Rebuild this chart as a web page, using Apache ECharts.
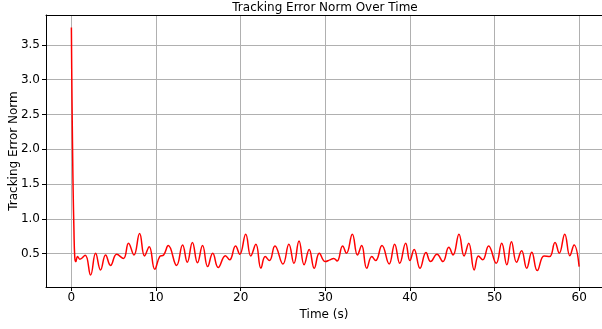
<!DOCTYPE html>
<html>
<head>
<meta charset="utf-8">
<script src="https://cdn.jsdelivr.net/npm/echarts@6/dist/echarts.min.js"></script>
<style>
  html, body { margin: 0; padding: 0; background: #fff; }
  #main { width: 602px; height: 329px; }
</style>
</head>
<body>
<div id="main"></div>
<script>
// time (s) and tracking error norm
const times = [
  0, 0.05, 0.1, 0.15, 0.2, 0.3, 0.4, 0.53, 0.73, 1.0, 1.63, 2.27, 2.86, 3.45, 4.04, 4.63,
  5.35, 6.15, 6.75, 7.39, 8.06, 8.65, 9.2, 9.85, 10.45, 10.9, 11.45, 12.43, 13.14, 13.7,
  14.3, 14.9, 15.5, 16.1, 16.7, 17.35, 18.2, 18.7, 19.4, 19.9, 20.6, 21.2, 21.8, 22.4,
  22.9, 23.4, 24.05, 25.0, 25.7, 26.3, 26.9, 27.5, 28.1, 28.7, 29.3, 30.0, 30.55, 31.0,
  31.4, 32.05, 32.5, 33.2, 33.8, 34.3, 34.9, 35.5, 35.95, 36.7, 37.55, 38.2, 38.8, 39.5,
  40.0, 40.5, 41.2, 41.9, 42.45, 43.2, 43.9, 44.6, 45.1, 45.8, 46.4, 46.95, 47.6, 48.1,
  48.6, 49.3, 50.2, 50.85, 51.45, 52.0, 52.6, 53.2, 53.8, 54.4, 55.05, 55.85, 56.5,
  57.15, 57.65, 58.3, 58.9, 59.4, 60.0
];
const errorNorm = [
  3.75, 3.0, 2.4, 1.9, 1.45, 0.85, 0.45, 0.385, 0.46, 0.42, 0.477, 0.194, 0.505, 0.266, 0.48, 0.33,
  0.49, 0.43, 0.65, 0.48, 0.79, 0.467, 0.60, 0.275, 0.46, 0.48, 0.615, 0.33, 0.625, 0.376,
  0.66, 0.37, 0.615, 0.313, 0.505, 0.30, 0.47, 0.41, 0.61, 0.49, 0.78, 0.467, 0.635, 0.29,
  0.457, 0.40, 0.61, 0.35, 0.635, 0.36, 0.68, 0.34, 0.56, 0.29, 0.505, 0.385, 0.41, 0.43,
  0.395, 0.61, 0.505, 0.78, 0.48, 0.615, 0.29, 0.457, 0.40, 0.615, 0.35, 0.635, 0.36, 0.65,
  0.40, 0.56, 0.29, 0.515, 0.385, 0.49, 0.385, 0.59, 0.48, 0.78, 0.467, 0.65, 0.266, 0.467,
  0.41, 0.61, 0.36, 0.65, 0.34, 0.67, 0.376, 0.54, 0.29, 0.52, 0.256, 0.467, 0.457,
  0.66, 0.505, 0.78, 0.47, 0.625, 0.313
];
const xTicks = [0, 10, 20, 30, 40, 50, 60];
const yTicks = [0.5, 1.0, 1.5, 2.0, 2.5, 3.0, 3.5];

const font = 'DejaVu Sans';
const chart = echarts.init(document.getElementById('main'), null, { renderer: 'canvas' });

chart.setOption({
  animation: false,
  backgroundColor: '#fff',
  title: {
    text: 'Tracking Error Norm Over Time',
    left: 325, top: 2, padding: 0, textAlign: 'center',
    textStyle: { fontFamily: font, fontSize: 12, fontWeight: 'normal', color: '#000' }
  },
  grid: { left: 46, right: 0, top: 15, bottom: 42, containLabel: false, outerBoundsMode: 'none' },
  xAxis: [{
    type: 'value',
    min: -3, max: 62.7,
    name: 'Time (s)',
    nameLocation: 'middle',
    nameGap: 19,
    nameTextStyle: { fontFamily: font, fontSize: 12, color: '#000' },
    axisLine: { show: true, onZero: false, lineStyle: { color: '#000', width: 1 } },
    axisTick: { show: true, length: 4, customValues: xTicks, lineStyle: { color: '#000' } },
    axisLabel: { customValues: xTicks, fontFamily: font, fontSize: 12, color: '#000', margin: 5 },
    splitLine: { show: true, lineStyle: { color: '#b0b0b0', width: 1 } }
  }, {
    type: 'value', position: 'top', min: -3, max: 62.7,
    axisLine: { show: true, lineStyle: { color: '#000', width: 1 } },
    axisTick: { show: false }, axisLabel: { show: false }, splitLine: { show: false }
  }],
  yAxis: {
    type: 'value',
    min: 0.02, max: 3.93,
    name: 'Tracking Error Norm',
    nameLocation: 'middle',
    nameGap: 26,
    nameMoveOverlap: false,
    nameTextStyle: { fontFamily: font, fontSize: 12, color: '#000' },
    axisLine: { show: true, onZero: false, lineStyle: { color: '#000', width: 1 } },
    axisTick: { show: true, length: 4, customValues: yTicks, lineStyle: { color: '#000' } },
    axisLabel: {
      customValues: yTicks, fontFamily: font, fontSize: 12, color: '#000', margin: 6,
      formatter: v => v.toFixed(1)
    },
    splitLine: { show: true, lineStyle: { color: '#b0b0b0', width: 1 } }
  },
  series: [{
    type: 'line',
    data: times.map((t, i) => [t, errorNorm[i]]),
    smooth: 0.45,
    showSymbol: false,
    lineStyle: { color: '#ff0000', width: 1.5 }
  }]
});
</script>
</body>
</html>
